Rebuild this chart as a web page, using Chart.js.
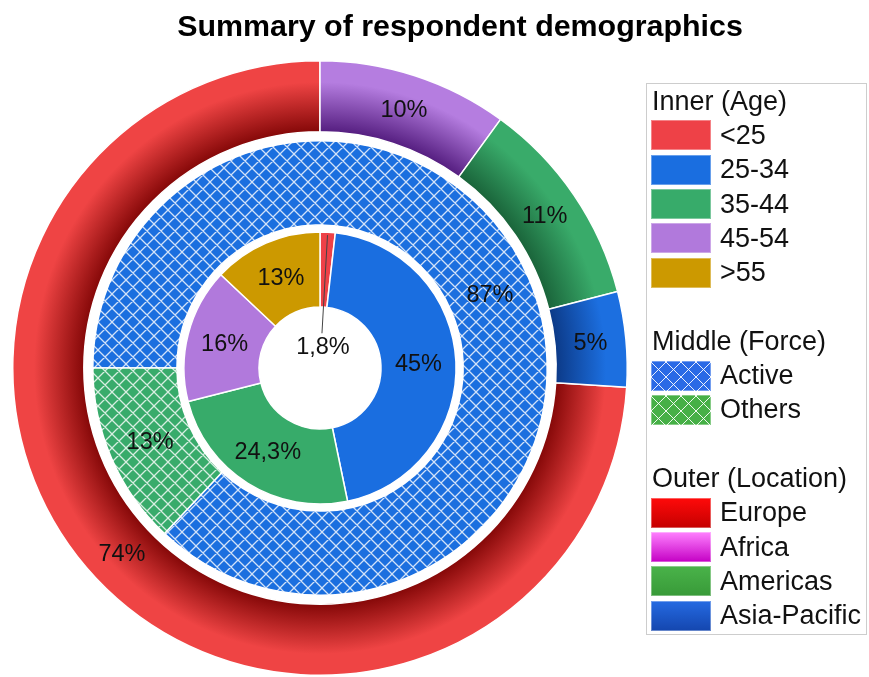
<!DOCTYPE html>
<html>
<head>
<meta charset="utf-8">
<script src="https://cdn.jsdelivr.net/npm/chart.js@4/dist/chart.umd.min.js"></script>
<style>
  html, body { margin: 0; padding: 0; background: #fff; }
  #wrap { position: relative; width: 869px; height: 677px; overflow: hidden; font-family: "Liberation Sans", Arial, sans-serif; color: #111; }
  #demoChart { position: absolute; left: 0; top: 0; }
  #title { position: absolute; left: 160px; top: 10px; width: 600px; text-align: center; font-weight: bold; font-size: 30.4px; line-height: 30.4px; color: #000; }
  #legend { position: absolute; left: 646px; top: 83px; width: 221px; height: 552px; box-sizing: border-box; border: 1.5px solid #cdcdcd; padding-left: 4px; }
  #legend .row { height: 34.3px; display: flex; align-items: center; font-size: 27px; white-space: nowrap; }
  #legend .hdr { padding-left: 1px; }
  #legend .sw { width: 60px; height: 30px; margin-right: 9px; flex: none; box-shadow: inset 0 0 0 1px rgba(255,255,255,0.35); }
</style>
</head>
<body>
<div id="wrap">
  <canvas id="demoChart" width="869" height="677"></canvas>
  <div id="title">Summary of respondent demographics</div>
  <div id="legend"></div>
</div>
<script>
/* ── Données ───────────────────────────────────────────── */
const AGE_LABELS = ['<25', '25-34', '35-44', '45-54', '>55'];
const AGE_SHARES = [1.8, 45, 24.3, 16, 13];

const FORCE_LABELS = ['Active', 'Others'];
const FORCE_SHARES = [87, 13];

const LOCATION_LABELS = ['Europe', 'Africa', 'Americas', 'Asia-Pacific'];
const LOCATION_SHARES = [74, 10, 11, 5];

/* ── Style ─────────────────────────────────────────────── */
const AGE_COLORS = ['#ee4147', '#1a6ee0', '#37ab6a', '#b179dc', '#cc9900'];
const FORCE_COLORS = ['#1b6fdf', '#38ab6b'];
// [bord extérieur clair, bord intérieur sombre]
const LOCATION_SHADES = [
    ['#ef4444', '#850808'],
    ['#b57de0', '#551e80'],
    ['#39ab6a', '#1a643a'],
    ['#1c6fe0', '#0c3a88'],
];

const LEGEND_FORCE = ['#2a6ae6', '#46b046'];
const LEGEND_LOCATION = [
    ['#ff0a0a', '#c40000'],
    ['#ff82ff', '#c400c4'],
    ['#4ab34a', '#389a38'],
    ['#256ae2', '#1446ae'],
];

// anneaux : épaisseurs relatives (extérieur → intérieur), espaces compris
const RING = { outer: 71, gapOuter: 9, middle: 84, gapInner: 7, inner: 75 };
const HOLE = 61;
const FORCE_ROTATION = 270;
const LOCATION_ROTATION = 360 * (1 - LOCATION_SHARES[0] / 100);

const LABEL_FONT = '23.5px "Liberation Sans", Arial, sans-serif';

/* ── Helpers ───────────────────────────────────────────── */
const fmtPct = v => String(v).replace('.', ',') + '%';

function hatch(base, size) {
    const c = document.createElement('canvas');
    c.width = c.height = size;
    const g = c.getContext('2d');
    g.fillStyle = base;
    g.fillRect(0, 0, size, size);
    g.strokeStyle = 'rgba(255,255,255,0.8)';
    g.lineWidth = 1.3;
    g.beginPath();
    for (const k of [-size, 0, size]) {
        g.moveTo(k, 0); g.lineTo(k + size, size);
        g.moveTo(k + size, 0); g.lineTo(k, size);
    }
    g.stroke();
    return g.createPattern(c, 'repeat');
}

// dégradé radial : sombre près du centre, clair vers l'extérieur
function shadedRing(c) {
    if (c.dataIndex === undefined) return LOCATION_SHADES[0][0];
    const [light, dark] = LOCATION_SHADES[c.dataIndex];
    const ctrl = c.chart.getDatasetMeta(c.datasetIndex).controller;
    const area = c.chart.chartArea;
    if (!area || !ctrl || !ctrl.outerRadius) return light;
    const cx = (area.left + area.right) / 2;
    const cy = (area.top + area.bottom) / 2;
    const grad = c.chart.ctx.createRadialGradient(cx, cy, ctrl.innerRadius, cx, cy, ctrl.outerRadius);
    grad.addColorStop(0, dark);
    grad.addColorStop(0.7, light);
    grad.addColorStop(1, light);
    return grad;
}

const spacer = weight => ({
    data: [1], weight, backgroundColor: 'rgba(0,0,0,0)', borderWidth: 0, hoverBorderWidth: 0,
});

/* ── Étiquettes des parts ──────────────────────────────── */
const sliceLabels = {
    id: 'sliceLabels',
    afterDatasetsDraw(chart) {
        const ctx = chart.ctx;
        ctx.save();
        ctx.font = LABEL_FONT;
        ctx.fillStyle = '#111';
        ctx.textAlign = 'center';
        chart.data.datasets.forEach((ds, di) => {
            if (!ds.labelled) return;
            const total = ds.data.reduce((a, b) => a + b, 0);
            chart.getDatasetMeta(di).data.forEach((arc, i) => {
                const { x, y, startAngle, endAngle, innerRadius, outerRadius } =
                    arc.getProps(['x', 'y', 'startAngle', 'endAngle', 'innerRadius', 'outerRadius'], true);
                const mid = (startAngle + endAngle) / 2;
                const text = fmtPct(ds.data[i]);
                if (ds.data[i] / total < 0.03) {
                    // part trop fine : trait de rappel vers le trou central
                    const r0 = outerRadius - 3, r1 = innerRadius * 0.57;
                    const ex = x + Math.cos(mid) * r1, ey = y + Math.sin(mid) * r1;
                    ctx.strokeStyle = '#444';
                    ctx.lineWidth = 1;
                    ctx.beginPath();
                    ctx.moveTo(x + Math.cos(mid) * r0, y + Math.sin(mid) * r0);
                    ctx.lineTo(ex, ey);
                    ctx.stroke();
                    ctx.textBaseline = 'top';
                    ctx.fillText(text, ex + 1, ey + 2);
                    return;
                }
                const r = (innerRadius + outerRadius) / 2;
                ctx.textBaseline = 'middle';
                ctx.fillText(text, x + Math.cos(mid) * r, y + Math.sin(mid) * r + 1);
            });
        });
        ctx.restore();
    },
};

/* ── Graphique ─────────────────────────────────────────── */
const ARC_BASE = { borderColor: '#fff', borderWidth: 1.5, hoverBorderWidth: 1.5, hoverOffset: 0, offset: 0 };

new Chart(document.getElementById('demoChart'), {
    type: 'doughnut',
    data: {
        datasets: [
            {
                ...ARC_BASE,
                labels: LOCATION_LABELS,
                data: LOCATION_SHARES,
                weight: RING.outer,
                rotation: LOCATION_ROTATION,
                backgroundColor: shadedRing,
                labelled: true,
            },
            spacer(RING.gapOuter),
            {
                ...ARC_BASE,
                labels: FORCE_LABELS,
                data: FORCE_SHARES,
                weight: RING.middle,
                rotation: FORCE_ROTATION,
                backgroundColor: FORCE_COLORS.map(c => hatch(c, 14)),
                labelled: true,
            },
            spacer(RING.gapInner),
            {
                ...ARC_BASE,
                labels: AGE_LABELS,
                data: AGE_SHARES,
                weight: RING.inner,
                backgroundColor: AGE_COLORS,
                labelled: true,
            },
        ],
    },
    options: {
        responsive: false,
        animation: false,
        events: [],
        cutout: HOLE,
        layout: { padding: { left: 12, top: 60, right: 241, bottom: 1 } },
        plugins: { legend: { display: false }, tooltip: { enabled: false } },
    },
    plugins: [sliceLabels],
});

/* ── Légende ───────────────────────────────────────────── */
const legend = document.getElementById('legend');

function addRow(text, swatchStyle, isHeader) {
    const row = document.createElement('div');
    row.className = 'row' + (isHeader ? ' hdr' : '');
    if (swatchStyle) {
        const sw = document.createElement('span');
        sw.className = 'sw';
        sw.style.background = swatchStyle;
        row.appendChild(sw);
    }
    if (text) row.appendChild(document.createTextNode(text));
    legend.appendChild(row);
}

const cssHatch = base =>
    'repeating-linear-gradient(45deg, transparent 0 9.4px, rgba(255,255,255,0.9) 9.4px 10.6px),' +
    'repeating-linear-gradient(-45deg, transparent 0 9.4px, rgba(255,255,255,0.9) 9.4px 10.6px),' + base;

addRow('Inner (Age)', null, true);
AGE_LABELS.forEach((l, i) => addRow(l, AGE_COLORS[i]));
addRow('', null, true);
addRow('Middle (Force)', null, true);
FORCE_LABELS.forEach((l, i) => addRow(l, cssHatch(LEGEND_FORCE[i])));
addRow('', null, true);
addRow('Outer (Location)', null, true);
LOCATION_LABELS.forEach((l, i) =>
    addRow(l, `linear-gradient(${LEGEND_LOCATION[i][0]}, ${LEGEND_LOCATION[i][1]})`));
</script>
</body>
</html>
